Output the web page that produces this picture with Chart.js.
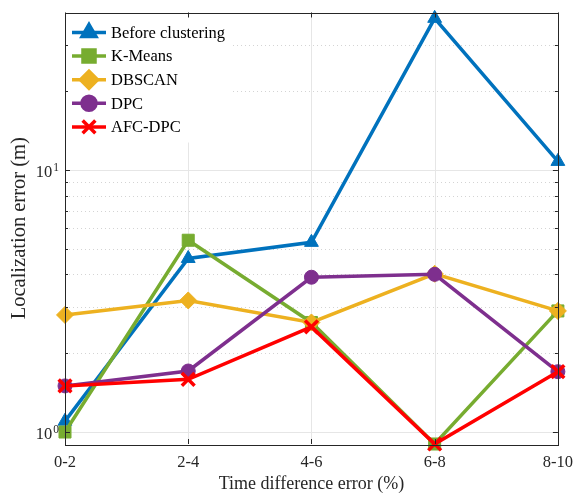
<!DOCTYPE html>
<html>
<head>
<meta charset="utf-8">
<script src="https://cdn.jsdelivr.net/npm/chart.js@4/dist/chart.umd.min.js"></script>
<style>
html,body{margin:0;padding:0;background:#fff;}
#wrap{width:582px;height:493px;}
</style>
</head>
<body>
<div id="wrap"><canvas id="c" width="582" height="493"></canvas></div>
<script>
const categories = ['0-2', '2-4', '4-6', '6-8', '8-10'];
const beforeClustering = [1.1, 4.6, 5.3, 38, 10.8];
const kMeans = [1.0, 5.4, 2.62, 0.9, 2.9];
const dbscan = [2.8, 3.18, 2.62, 4.02, 2.9];
const dpc = [1.5, 1.71, 3.9, 4.0, 1.7];
const afcDpc = [1.5, 1.59, 2.52, 0.9, 1.7];
const yMajorTicks = [1, 10];
const yMinorTicks = [2, 3, 4, 5, 6, 7, 8, 9, 20, 30];

const FONT = "'Liberation Serif', 'Times New Roman', serif";
const TXT = '#262626';

function ds(label, data, color, pointStyle, radius, order, extra) {
  return Object.assign({
    label, data,
    borderColor: color, backgroundColor: color,
    pointBackgroundColor: color, pointBorderColor: color,
    borderWidth: 3.5, pointStyle, pointRadius: radius, pointHoverRadius: radius,
    pointBorderWidth: 1, tension: 0, order, clip: false
  }, extra || {});
}

const datasets = [
  ds('Before clustering', beforeClustering, '#0072BD', 'triangle', 8, 5),
  ds('K-Means', kMeans, '#77AC30', 'rect', 8.5, 4),
  ds('DBSCAN', dbscan, '#EDB120', 'rectRot', 8.5, 3),
  ds('DPC', dpc, '#7E2F8E', 'circle', 7, 2),
  ds('AFC-DPC', afcDpc, '#FF0000', 'crossRot', 9, 1, {pointBorderWidth: 3.5})
];

const framePlugin = {
  id: 'frame',
  beforeDatasetsDraw(chart) {
    const {ctx, chartArea: a, scales: {x, y}} = chart;
    ctx.save();
    ctx.strokeStyle = '#e6e6e6'; ctx.lineWidth = 1;
    categories.forEach((c, i) => {
      const px = Math.round(x.getPixelForValue(i)) + 0.5;
      ctx.beginPath(); ctx.moveTo(px, a.top); ctx.lineTo(px, a.bottom); ctx.stroke();
    });
    yMajorTicks.forEach(v => {
      const py = Math.round(y.getPixelForValue(v)) + 0.5;
      ctx.beginPath(); ctx.moveTo(a.left, py); ctx.lineTo(a.right, py); ctx.stroke();
    });
    ctx.strokeStyle = '#d4d4d4'; ctx.setLineDash([1, 3]);
    yMinorTicks.forEach(v => {
      const py = Math.round(y.getPixelForValue(v)) + 0.5;
      ctx.beginPath(); ctx.moveTo(a.left, py); ctx.lineTo(a.right, py); ctx.stroke();
    });
    ctx.setLineDash([]);
    ctx.fillStyle = '#fff';
    ctx.fillRect(a.left + 1, a.top + 1, 165, 129);
    ctx.restore();
  },
  afterDraw(chart) {
    const {ctx, chartArea: a, scales: {x, y}} = chart;
    ctx.save();
    ctx.strokeStyle = TXT; ctx.lineWidth = 1;
    ctx.strokeRect(Math.round(a.left) + 0.5, Math.round(a.top) + 0.5,
      Math.round(a.right - a.left), Math.round(a.bottom - a.top));
    const yt = (v, len) => {
      const py = Math.round(y.getPixelForValue(v)) + 0.5;
      ctx.beginPath();
      ctx.moveTo(a.left, py); ctx.lineTo(a.left + len, py);
      ctx.moveTo(a.right, py); ctx.lineTo(a.right - len, py);
      ctx.stroke();
    };
    yMajorTicks.forEach(v => yt(v, 5));
    yMinorTicks.forEach(v => yt(v, 3));
    categories.forEach((c, i) => {
      const px = Math.round(x.getPixelForValue(i)) + 0.5;
      ctx.beginPath();
      ctx.moveTo(px, a.bottom); ctx.lineTo(px, a.bottom - 5);
      ctx.moveTo(px, a.top); ctx.lineTo(px, a.top + 5);
      ctx.stroke();
    });
    ctx.fillStyle = TXT; ctx.textBaseline = 'middle';
    yMajorTicks.forEach(v => {
      const py = y.getPixelForValue(v);
      const exp = String(Math.round(Math.log10(v)));
      ctx.font = '11.5px ' + FONT;
      const ew = ctx.measureText(exp).width;
      ctx.textAlign = 'right';
      ctx.fillText(exp, a.left - 6, py - 2);
      ctx.font = '16.5px ' + FONT;
      ctx.fillText('10', a.left - 7 - ew, py + 3);
    });
    const items = chart.data.datasets;
    items.forEach((d, i) => {
      const cy = a.top + 20 + i * 23.6;
      const x0 = a.left + 7, x1 = a.left + 41, mx = (x0 + x1) / 2;
      ctx.strokeStyle = d.borderColor; ctx.lineWidth = 3.5;
      ctx.beginPath(); ctx.moveTo(x0, cy); ctx.lineTo(x1, cy); ctx.stroke();
      ctx.fillStyle = d.backgroundColor;
      Chart.helpers.drawPoint(ctx, {
        pointStyle: d.pointStyle, radius: d.pointRadius, rotation: 0,
        borderWidth: d.pointBorderWidth
      }, mx, cy);
      if (d.pointStyle !== 'crossRot') ctx.fill();
      ctx.fillStyle = '#000';
      ctx.font = '16.5px ' + FONT;
      ctx.textAlign = 'left'; ctx.textBaseline = 'middle';
      ctx.fillText(d.label, x1 + 5, cy + 1);
    });
    ctx.restore();
  }
};

new Chart(document.getElementById('c'), {
  type: 'line',
  data: { labels: categories, datasets },
  options: {
    responsive: false, animation: false,
    layout: { padding: { left: 0, right: 19, top: 11, bottom: 0 } },
    plugins: { legend: { display: false }, tooltip: { enabled: false } },
    scales: {
      x: {
        type: 'category', offset: false,
        grid: { display: false, drawTicks: false },
        border: { display: false },
        ticks: { color: TXT, font: { family: FONT, size: 16.5 }, padding: 9, maxRotation: 0, autoSkip: false },
        title: { display: true, text: 'Time difference error (%)', color: TXT,
          font: { family: FONT, size: 18, lineHeight: 1 }, padding: { top: 0, bottom: 0 } },
        afterFit(s) { s.height = 49; }
      },
      y: {
        type: 'logarithmic', min: 0.9, max: 40,
        grid: { display: false, drawTicks: false },
        border: { display: false },
        ticks: { display: false },
        title: { display: true, text: 'Localization error (m)', color: TXT,
          font: { family: FONT, size: 20.5, lineHeight: 1 }, padding: { top: 9, bottom: 0 } },
        afterFit(s) { s.width = 65; }
      }
    }
  },
  plugins: [framePlugin]
});
</script>
</body>
</html>
